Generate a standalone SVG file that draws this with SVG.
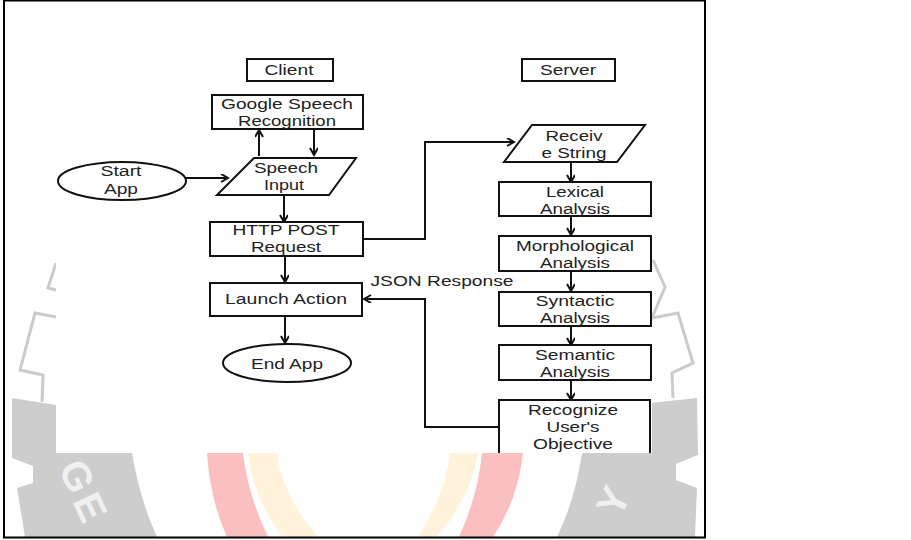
<svg xmlns="http://www.w3.org/2000/svg" width="911" height="540" viewBox="0 0 911 540">
<style>
text{font-family:"Liberation Sans",Arial,sans-serif;font-size:15.5px;fill:#222;text-anchor:middle}
.s{fill:#fff;stroke:#111;stroke-width:2}
.c{fill:none;stroke:#111;stroke-width:2}
.g{fill:none;stroke:#cbcbcb;stroke-width:3}
.wm{font-weight:bold;font-size:40px;fill:#f0f0f0;text-anchor:start}
.r{fill:#fac0c0}
.y{fill:#fff3dc}
</style>
<defs>
<marker id="a" markerWidth="10" markerHeight="10" refX="8" refY="4" orient="auto" markerUnits="userSpaceOnUse"><path d="M1 0L8 4L1 8" fill="none" stroke="#111" stroke-width="2"/></marker>
</defs>
<rect width="911" height="540" fill="#fff"/>
<g id="watermark">
<path fill="#cdcdcd" d="M12 398L56 405V453H132Q140 500 157 537H25L17 488L33 483V466L12 458Z"/>
<path fill="#cdcdcd" d="M697 398L650 403V453H582Q575 500 557 537H695L697 488L676 480V464L698 455Z"/>
<path class="g" d="M56 263L48 288L56 290M56 317L35 313L20 370L43 375L42 402"/>
<path class="g" d="M653 260L665 287L652 318L678 313L693 363L672 373L673 398"/>
<path class="r" d="M207 453Q210 500 227 537H268Q248 495 243 453Z"/>
<path class="y" d="M248 453Q252 495 282 537H318Q282 495 277 453Z"/>
<path class="r" d="M523 453Q518 500 493 537H459Q478 495 482 453Z"/>
<path class="y" d="M478 453Q470 500 436 537H418Q445 495 450 453Z"/>
<text class="wm" x="0" y="0" transform="translate(58 468) rotate(65)">G</text>
<text class="wm" x="0" y="0" transform="translate(72 501) rotate(65)">E</text>
<text class="wm" x="0" y="0" transform="translate(620 519) rotate(-65)">Y</text>
</g>
<rect x="56" y="1" width="596" height="452" fill="#fff"/>
<rect x="4" y="0.500" width="701" height="537" fill="none" stroke="#000" stroke-width="2"/>
<g id="connectors">
<path class="c" d="M259 156V130" marker-end="url(#a)"/>
<path class="c" d="M314 130V155" marker-end="url(#a)"/>
<path class="c" d="M185 178H228" marker-end="url(#a)"/>
<path class="c" d="M284 195V222" marker-end="url(#a)"/>
<path class="c" d="M363 239H425V142H514" marker-end="url(#a)"/>
<path class="c" d="M285 256V282" marker-end="url(#a)"/>
<path class="c" d="M285 317V343" marker-end="url(#a)"/>
<path class="c" d="M571 162V182" marker-end="url(#a)"/>
<path class="c" d="M571 216V235" marker-end="url(#a)"/>
<path class="c" d="M571 271V291" marker-end="url(#a)"/>
<path class="c" d="M571 326V345" marker-end="url(#a)"/>
<path class="c" d="M571 380V400" marker-end="url(#a)"/>
<path class="c" d="M498 427H425V299H364" marker-end="url(#a)"/>
</g>
<g id="client"><rect class="s" x="247" y="59" width="86" height="22"/><text x="289" y="75" textLength="49" lengthAdjust="spacingAndGlyphs">Client</text></g>
<g id="server"><rect class="s" x="522" y="59" width="93" height="22"/><text x="568" y="75" textLength="56" lengthAdjust="spacingAndGlyphs">Server</text></g>
<g id="google"><rect class="s" x="212" y="95" width="151" height="34"/><text x="287" y="109" textLength="132" lengthAdjust="spacingAndGlyphs">Google Speech</text><text x="287" y="126" textLength="98" lengthAdjust="spacingAndGlyphs">Recognition</text></g>
<g id="start"><ellipse class="s" cx="122" cy="181" rx="64" ry="19"/><text x="121" y="176" textLength="41" lengthAdjust="spacingAndGlyphs">Start</text><text x="121" y="194" textLength="34" lengthAdjust="spacingAndGlyphs">App</text></g>
<g id="speech"><path class="s" d="M254 158H356L329 195H217Z"/><text x="286" y="173" textLength="64" lengthAdjust="spacingAndGlyphs">Speech</text><text x="284" y="190" textLength="40" lengthAdjust="spacingAndGlyphs">Input</text></g>
<g id="http"><rect class="s" x="210" y="222" width="153" height="34"/><text x="286" y="235" textLength="107" lengthAdjust="spacingAndGlyphs">HTTP POST</text><text x="286" y="252" textLength="70" lengthAdjust="spacingAndGlyphs">Request</text></g>
<g id="launch"><rect class="s" x="210" y="283" width="152" height="33"/><text x="286" y="304" textLength="122" lengthAdjust="spacingAndGlyphs">Launch Action</text></g>
<g id="end"><ellipse class="s" cx="287" cy="363" rx="64" ry="19"/><text x="287" y="369" textLength="72" lengthAdjust="spacingAndGlyphs">End App</text></g>
<g id="receive"><path class="s" d="M532 125H645L617 162H504Z"/><text x="574" y="141" textLength="57" lengthAdjust="spacingAndGlyphs">Receiv</text><text x="574" y="158" textLength="65" lengthAdjust="spacingAndGlyphs">e String</text></g>
<g id="lexical"><rect class="s" x="499" y="182" width="152" height="34"/><text x="575" y="197" textLength="58" lengthAdjust="spacingAndGlyphs">Lexical</text><text x="575" y="214" textLength="70" lengthAdjust="spacingAndGlyphs">Analysis</text></g>
<g id="morph"><rect class="s" x="499" y="236" width="152" height="35"/><text x="575" y="251" textLength="118" lengthAdjust="spacingAndGlyphs">Morphological</text><text x="575" y="268" textLength="70" lengthAdjust="spacingAndGlyphs">Analysis</text></g>
<g id="syntactic"><rect class="s" x="499" y="292" width="152" height="34"/><text x="575" y="306" textLength="79" lengthAdjust="spacingAndGlyphs">Syntactic</text><text x="575" y="323" textLength="70" lengthAdjust="spacingAndGlyphs">Analysis</text></g>
<g id="semantic"><rect class="s" x="499" y="345" width="152" height="35"/><text x="575" y="360" textLength="80" lengthAdjust="spacingAndGlyphs">Semantic</text><text x="575" y="377" textLength="70" lengthAdjust="spacingAndGlyphs">Analysis</text></g>
<g id="objective"><path class="s" d="M499 453V400H650V453"/><text x="573" y="415" textLength="90" lengthAdjust="spacingAndGlyphs">Recognize</text><text x="573" y="432" textLength="53" lengthAdjust="spacingAndGlyphs">User's</text><text x="573" y="449" textLength="80" lengthAdjust="spacingAndGlyphs">Objective</text></g>
<text x="442" y="286" textLength="143" lengthAdjust="spacingAndGlyphs">JSON Response</text>
</svg>
